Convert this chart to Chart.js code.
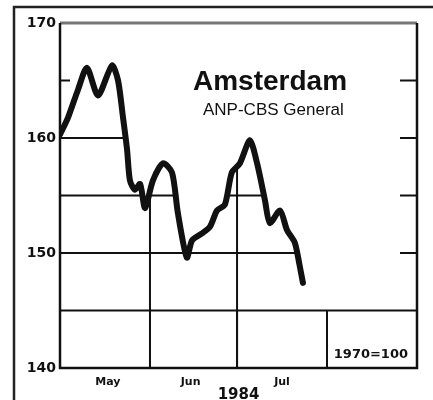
<!DOCTYPE html>
<html><head><meta charset="utf-8">
<script src="https://cdn.jsdelivr.net/npm/chart.js@4/dist/chart.umd.min.js"></script>
<style>html,body{margin:0;padding:0;background:#fff}#wrap{width:433px;height:400px;position:relative}</style>
</head><body><div id="wrap"><canvas id="c" width="433" height="400"></canvas></div>
<script>
// Data (day offset from 1 May 1984, index value 1970=100)
const days   = [0, 2.8, 6.2, 9.3, 13.1, 17.9, 20, 21.7, 23.1, 24.1, 25.8, 27.6, 29.3, 32, 35.5, 38.6, 40.6, 43.7, 45.5, 48.9, 51.7, 54.1, 56.8, 59.2, 62, 65.4, 67.9, 70.6, 72.3, 75.8, 78.2, 80.9, 82.5, 83.7];
const index  = [160.3, 161.8, 164.2, 166.1, 163.7, 166.3, 165, 161.8, 159, 156.3, 155.5, 156, 153.9, 156.3, 157.8, 157, 153.5, 149.6, 151.1, 151.7, 152.3, 153.7, 154.2, 157, 157.8, 159.8, 157.8, 154.6, 152.6, 153.7, 152, 150.9, 149, 147.4];
const monthStarts  = [0, 31, 61, 92, 123];
const monthCenters = [16.5, 45, 76.5];
const monthNames   = ['May', 'Jun', 'Jul'];
const yTicks       = [140, 150, 160, 170];
const underGrid    = [150, 155, 160];
const baseGrid     = 145;
const rightTicks   = [150, 155, 160, 165];
const leftTicks    = [165];
const titleText = 'Amsterdam';
const subText   = 'ANP-CBS General';
const baseNote  = '1970=100';
const yearLabel = '1984';

const FONT = '"Liberation Sans", Arial, Helvetica, sans-serif';
const HEAVY = '"DejaVu Sans", "Liberation Sans", sans-serif';
Chart.defaults.font.family = FONT;
const INK = '#111';

const decor = {
  id: 'decor',
  beforeDraw(chart) {
    const ctx = chart.ctx;
    ctx.save();
    ctx.strokeStyle = '#222';
    ctx.lineWidth = 2.5;
    ctx.beginPath();
    ctx.moveTo(14, 400); ctx.lineTo(14, 7); ctx.lineTo(433, 7);
    ctx.stroke();
    ctx.restore();
  },
  beforeDatasetsDraw(chart) {
    const ctx = chart.ctx;
    const {left, right, top, bottom} = chart.chartArea;
    const xs = chart.scales.x, ys = chart.scales.y;
    const pts = chart.getDatasetMeta(0).data;
    ctx.save();
    ctx.beginPath();
    ctx.moveTo(pts[0].x, bottom);
    pts.forEach(p => ctx.lineTo(p.x, p.y));
    ctx.lineTo(pts[pts.length - 1].x, bottom);
    ctx.closePath();
    ctx.clip();
    ctx.strokeStyle = INK;
    ctx.lineWidth = 2;
    underGrid.forEach(v => {
      const y = ys.getPixelForValue(v);
      ctx.beginPath(); ctx.moveTo(left, y); ctx.lineTo(right, y); ctx.stroke();
    });
    [monthStarts[1], monthStarts[2]].forEach(d => {
      const x = xs.getPixelForValue(d);
      ctx.beginPath(); ctx.moveTo(x, top); ctx.lineTo(x, bottom); ctx.stroke();
    });
    ctx.restore();

    ctx.save();
    ctx.strokeStyle = INK;
    ctx.lineWidth = 2;
    const yb = ys.getPixelForValue(baseGrid);
    ctx.beginPath(); ctx.moveTo(left, yb); ctx.lineTo(right, yb); ctx.stroke();
    const xa = xs.getPixelForValue(monthStarts[3]);
    ctx.beginPath(); ctx.moveTo(xa, yb); ctx.lineTo(xa, bottom); ctx.stroke();
    [monthStarts[1], monthStarts[2]].forEach(d => {
      const x = xs.getPixelForValue(d);
      ctx.beginPath(); ctx.moveTo(x, yb); ctx.lineTo(x, bottom); ctx.stroke();
    });
    rightTicks.forEach(v => {
      const y = ys.getPixelForValue(v);
      ctx.beginPath(); ctx.moveTo(right - 17, y); ctx.lineTo(right, y); ctx.stroke();
    });
    leftTicks.forEach(v => {
      const y = ys.getPixelForValue(v);
      ctx.beginPath(); ctx.moveTo(left, y); ctx.lineTo(left + 10, y); ctx.stroke();
    });
    // frame
    ctx.strokeStyle = '#777';
    ctx.lineWidth = 3;
    ctx.beginPath(); ctx.moveTo(left, top); ctx.lineTo(right, top); ctx.stroke();
    ctx.strokeStyle = INK;
    ctx.lineWidth = 2.5;
    ctx.beginPath(); ctx.moveTo(left, top); ctx.lineTo(left, bottom); ctx.lineTo(right, bottom); ctx.lineTo(right, top); ctx.stroke();
    ctx.restore();
  },
  afterDraw(chart) {
    const ctx = chart.ctx;
    const {left, right, top, bottom} = chart.chartArea;
    ctx.save();
    ctx.fillStyle = INK;
    ctx.textBaseline = 'alphabetic';
    ctx.textAlign = 'left';
    ctx.font = 'bold 28px ' + FONT;
    ctx.fillText(titleText, left + 133, top + 67);
    ctx.font = '17px ' + FONT;
    ctx.fillText(subText, left + 143, top + 92);
    ctx.textAlign = 'right';
    ctx.font = 'bold 13px ' + HEAVY;
    ctx.fillText(baseNote, right - 9, bottom - 10);
    ctx.restore();
  }
};

new Chart(document.getElementById('c'), {
  type: 'line',
  data: {
    datasets: [{
      data: days.map((d, i) => ({x: d, y: index[i]})),
      borderColor: INK,
      borderWidth: 6,
      pointRadius: 0,
      tension: 0.25,
      borderJoinStyle: 'round',
      borderCapStyle: 'round',
      fill: false
    }]
  },
  options: {
    responsive: false,
    animation: false,
    devicePixelRatio: 1,
    layout: { padding: { left: 15, top: 23, right: 16, bottom: 0 } },
    plugins: { legend: { display: false }, tooltip: { enabled: false }, title: { display: false } },
    scales: {
      x: {
        type: 'linear',
        min: monthStarts[0],
        max: monthStarts[monthStarts.length - 1],
        afterBuildTicks: s => { s.ticks = monthCenters.map(v => ({value: v})); },
        afterFit: s => { s.height = 32; },
        ticks: {
          autoSkip: false, maxRotation: 0, padding: 8,
          color: INK, font: { family: HEAVY, weight: 'bold', size: 11 },
          callback: (v, i) => monthNames[i]
        },
        grid: { display: false, drawTicks: false },
        border: { display: false },
        title: { display: true, text: yearLabel, color: INK, font: { family: HEAVY, weight: 'bold', size: 15 }, padding: { top: 0, bottom: -4 } }
      },
      y: {
        min: yTicks[0],
        max: yTicks[yTicks.length - 1],
        afterBuildTicks: s => { s.ticks = yTicks.map(v => ({value: v})); },
        afterFit: s => { s.width = 45; },
        ticks: { color: INK, padding: 4, font: { family: HEAVY, weight: 'bold', size: 14 } },
        grid: { display: false, drawTicks: false },
        border: { display: false }
      }
    }
  },
  plugins: [decor]
});
</script>
</body></html>
